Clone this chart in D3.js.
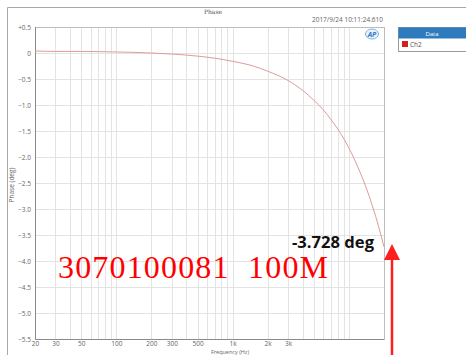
<!DOCTYPE html>
<html>
<head>
<meta charset="utf-8">
<script src="https://cdn.jsdelivr.net/npm/d3@7"></script>
<style>
  body { margin: 0; background: #fff; }
  svg { display: block; }
</style>
</head>
<body>
<svg id="chart" width="466" height="355"></svg>
<script>
// data
const freqs = [20, 30, 50, 100, 200, 300, 500, 700, 1000, 1500, 2000, 3000, 4000, 5000,
  6000, 7000, 8000, 10000, 12000, 14000, 16000, 18000, 20000];
const phase = [0.04, 0.03, 0.03, 0.02, 0.0, -0.02, -0.06, -0.1, -0.16, -0.25, -0.35, -0.53, -0.72, -0.91,
  -1.09, -1.28, -1.46, -1.83, -2.21, -2.58, -2.96, -3.34, -3.728];
const yTicks = [0.5, 0, -0.5, -1, -1.5, -2, -2.5, -3, -3.5, -4, -4.5, -5, -5.5];
const xTickVals = [20, 30, 50, 100, 200, 300, 500, 1000, 2000, 3000];
const xTickText = ['20', '30', '50', '100', '200', '300', '500', '1k', '2k', '3k'];
const xGrid = [20, 30, 40, 50, 60, 70, 80, 90, 100, 200, 300, 400, 500, 600, 700, 800, 900,
  1000, 2000, 3000, 4000, 5000, 6000, 7000, 8000, 9000, 10000, 20000];

const svg = d3.select('#chart');
const font = 'Open Sans, Liberation Sans, sans-serif';

const x = d3.scaleLog().domain([20, 20000]).range([35, 384]);
const y = d3.scaleLinear().domain([0.5, -5.5]).range([27, 339]);

// outer frame
svg.append('path')
  .attr('d', 'M7.5,355 V7.5 H466')
  .attr('fill', 'none')
  .attr('stroke', '#a8a8a8')
  .attr('stroke-width', 1);

// title + timestamp
svg.append('text').attr('x', 213).attr('y', 14)
  .attr('text-anchor', 'middle').attr('font-size', 6).attr('font-family', 'DejaVu Serif, serif')
  .attr('fill', '#555').text('Phase');
svg.append('text').attr('x', 383).attr('y', 22)
  .attr('text-anchor', 'end').attr('font-size', 6.5).attr('font-family', font)
  .attr('fill', '#666').text('2017/9/24 10:11:24.610');

// grid
const grid = svg.append('g').attr('stroke', '#e3e3e3').attr('stroke-width', 1);
grid.selectAll('line.v').data(xGrid).enter().append('line')
  .attr('x1', d => Math.round(x(d)) + 0.5).attr('x2', d => Math.round(x(d)) + 0.5)
  .attr('y1', y(0.5)).attr('y2', y(-5.5));
grid.selectAll('line.h').data(yTicks).enter().append('line')
  .attr('x1', x(20)).attr('x2', x(20000))
  .attr('y1', d => Math.round(y(d)) + 0.5).attr('y2', d => Math.round(y(d)) + 0.5);

// plot border
svg.append('rect')
  .attr('x', x(20) + 0.5).attr('y', y(0.5) + 0.5)
  .attr('width', x(20000) - x(20)).attr('height', y(-5.5) - y(0.5))
  .attr('fill', 'none').attr('stroke', '#bdbdbd');
svg.append('path')
  .attr('d', `M${x(20) + 0.5},${y(0.5)} V${y(-5.5) + 0.5} H${x(20000)}`)
  .attr('fill', 'none').attr('stroke', '#8a8a8a');

// axes labels
const yAxis = d3.axisLeft(y).tickValues(yTicks).tickSize(0).tickPadding(4)
  .tickFormat(d => d > 0 ? '+' + d3.format('.1f')(d) : (d === 0 ? '0' : d3.format('.1f')(d)));
svg.append('g').attr('transform', `translate(${x(20)},0)`).call(yAxis)
  .call(g => g.select('.domain').remove())
  .call(g => g.selectAll('text').attr('font-size', 6.5).attr('font-family', font).attr('fill', '#666'));

const xAxis = d3.axisBottom(x).tickValues(xTickVals).tickSize(0).tickPadding(2)
  .tickFormat((d, i) => xTickText[i]);
svg.append('g').attr('transform', `translate(0,${y(-5.5)})`).call(xAxis)
  .call(g => g.select('.domain').remove())
  .call(g => g.selectAll('text').attr('font-size', 6.5).attr('font-family', font).attr('fill', '#666'));

svg.append('text').attr('x', 230).attr('y', 353.5)
  .attr('text-anchor', 'middle').attr('font-size', 5.5).attr('font-family', font)
  .attr('fill', '#666').text('Frequency (Hz)');
svg.append('text').attr('transform', 'translate(14,185) rotate(-90)')
  .attr('text-anchor', 'middle').attr('font-size', 6.5).attr('font-family', font)
  .attr('fill', '#666').text('Phase (deg)');

// AP logo
const logo = svg.append('g').attr('transform', 'translate(372,34)');
logo.append('ellipse').attr('rx', 6.5).attr('ry', 5).attr('fill', '#eaf2fb').attr('stroke', '#7fb0e0');
logo.append('text').attr('text-anchor', 'middle').attr('y', 2.5)
  .attr('font-size', 7).attr('font-weight', 'bold').attr('font-style', 'italic')
  .attr('font-family', font).attr('fill', '#2f78c4').text('AP');

// curve
const line = d3.line().x((d, i) => x(freqs[i])).y(d => y(d)).curve(d3.curveMonotoneX);
svg.append('path').datum(phase)
  .attr('d', line)
  .attr('fill', 'none')
  .attr('stroke', '#e09a9a')
  .attr('stroke-width', 1);

// legend
const lg = svg.append('g');
lg.append('rect').attr('x', 398.5).attr('y', 27.5).attr('width', 70).attr('height', 24)
  .attr('fill', '#fff').attr('stroke', '#9a9a9a');
lg.append('rect').attr('x', 398.5).attr('y', 27.5).attr('width', 70).attr('height', 11)
  .attr('fill', '#2d7bbd');
lg.append('text').attr('x', 432).attr('y', 35.5).attr('text-anchor', 'middle')
  .attr('font-size', 6).attr('font-family', font).attr('fill', '#fff').text('Data');
lg.append('rect').attr('x', 402).attr('y', 41).attr('width', 6).attr('height', 6).attr('fill', '#d0211c');
lg.append('text').attr('x', 410).attr('y', 47).attr('font-size', 6.5).attr('font-family', font)
  .attr('fill', '#555').text('Ch2');

// annotations
svg.append('text').attr('x', 58).attr('y', 278)
  .attr('font-size', 32).attr('font-family', 'Liberation Serif, Times New Roman, serif')
  .attr('fill', '#ff0000').attr('xml:space', 'preserve').style('white-space', 'pre')
  .attr('textLength', 270).attr('lengthAdjust', 'spacing')
  .text('3070100081  100M');
svg.append('text').attr('x', 292).attr('y', 248)
  .attr('font-size', 16).attr('font-weight', 'bold').attr('font-family', font)
  .attr('fill', '#111').attr('textLength', 82).attr('lengthAdjust', 'spacingAndGlyphs')
  .text('-3.728 deg');

// red arrow
svg.append('line').attr('x1', 392).attr('x2', 392).attr('y1', 355).attr('y2', 255)
  .attr('stroke', '#ff1d1d').attr('stroke-width', 2.5);
svg.append('path').attr('d', 'M384,260 L392,244 L400,260 Z').attr('fill', '#ff1d1d');
</script>
</body>
</html>
